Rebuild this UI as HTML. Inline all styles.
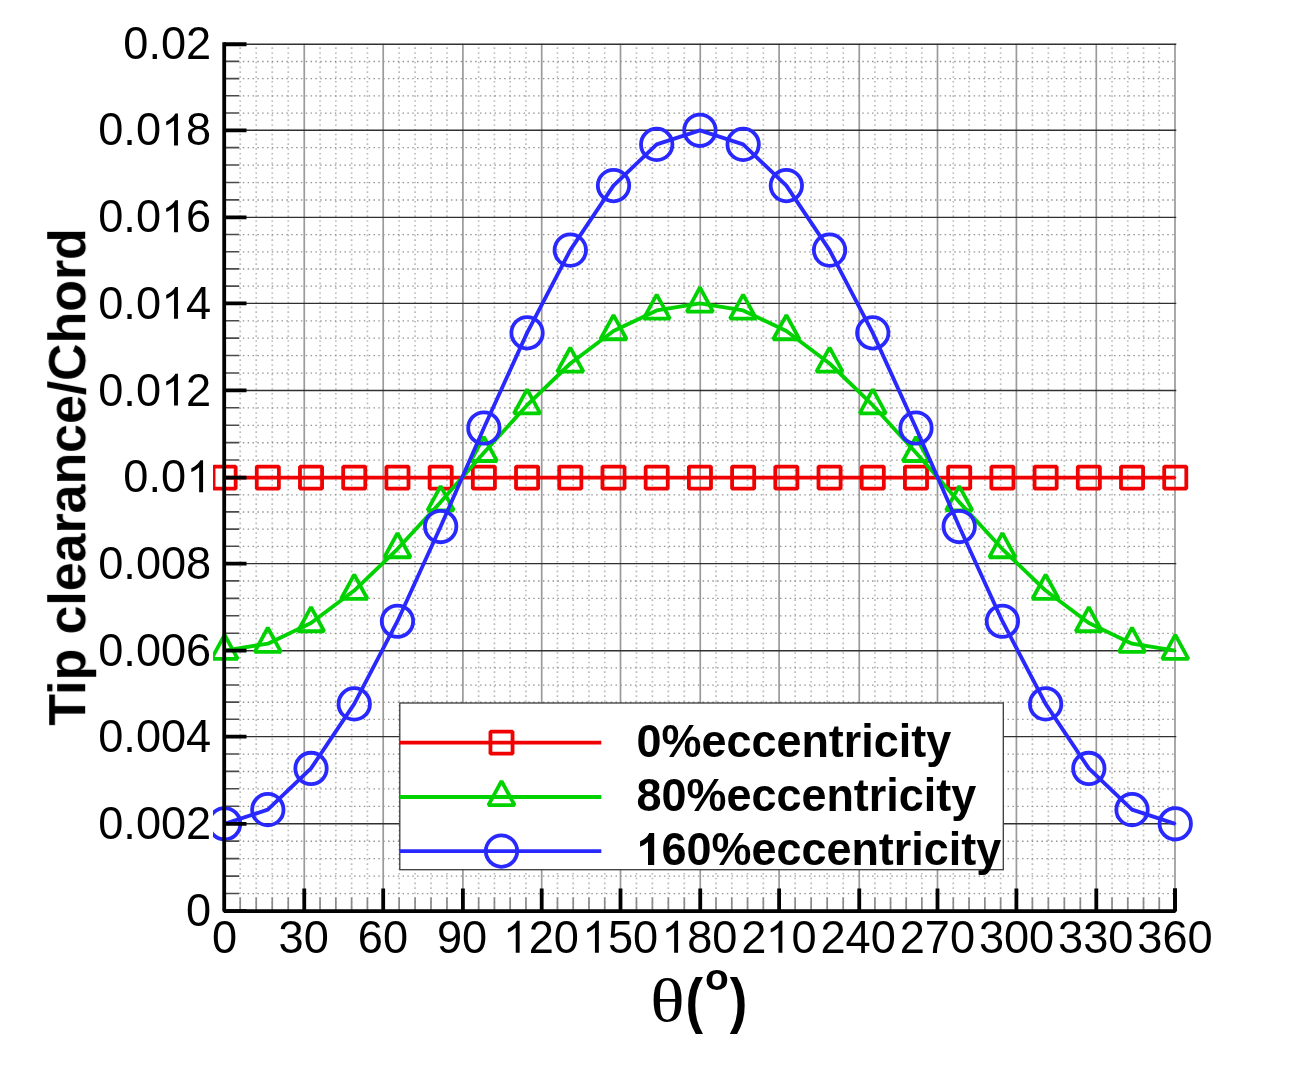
<!DOCTYPE html>
<html><head><meta charset="utf-8"><title>Tip clearance chart</title>
<style>html,body{margin:0;padding:0;background:#fff;overflow:hidden}body{width:1294px;height:1072px;position:relative;font-family:"Liberation Sans",sans-serif}</style>
</head><body>
<svg width="1294" height="1072" viewBox="0 0 1294 1072" style="position:absolute;left:0;top:0">
<rect width="1294" height="1072" fill="#fff"/>
<defs><clipPath id="cp"><rect x="213" y="0" width="1100" height="1072"/></clipPath></defs>
<path d="M240.21 44.73V908.68M256.22 44.73V908.68M272.24 44.73V908.68M288.25 44.73V908.68M320.05 44.73V908.68M335.84 44.73V908.68M351.62 44.73V908.68M367.41 44.73V908.68M399.14 44.73V908.68M415.08 44.73V908.68M431.02 44.73V908.68M446.96 44.73V908.68M478.66 44.73V908.68M494.42 44.73V908.68M510.18 44.73V908.68M525.94 44.73V908.68M557.46 44.73V908.68M573.22 44.73V908.68M588.98 44.73V908.68M604.74 44.73V908.68M636.45 44.73V908.68M652.40 44.73V908.68M668.35 44.73V908.68M684.30 44.73V908.68M716.02 44.73V908.68M731.79 44.73V908.68M747.56 44.73V908.68M763.33 44.73V908.68M795.13 44.73V908.68M811.16 44.73V908.68M827.19 44.73V908.68M843.22 44.73V908.68M874.90 44.73V908.68M890.55 44.73V908.68M906.20 44.73V908.68M921.85 44.73V908.68M953.28 44.73V908.68M969.06 44.73V908.68M984.84 44.73V908.68M1000.62 44.73V908.68M1032.38 44.73V908.68M1048.36 44.73V908.68M1064.34 44.73V908.68M1080.32 44.73V908.68M1112.04 44.73V908.68M1127.78 44.73V908.68M1143.52 44.73V908.68M1159.26 44.73V908.68" stroke="#bcbcbc" stroke-width="1.7" stroke-dasharray="1.6 3.2" stroke-dashoffset="-2.6" fill="none"/>
<path d="M239.20 893.64H1175.49M239.20 876.18H1175.49M239.20 858.72H1175.49M239.20 841.26H1175.49M239.20 806.36H1175.49M239.20 788.92H1175.49M239.20 771.48H1175.49M239.20 754.04H1175.49M239.20 719.42H1175.49M239.20 702.24H1175.49M239.20 685.06H1175.49M239.20 667.88H1175.49M239.20 633.28H1175.49M239.20 615.86H1175.49M239.20 598.44H1175.49M239.20 581.02H1175.49M239.20 546.40H1175.49M239.20 529.20H1175.49M239.20 512.00H1175.49M239.20 494.80H1175.49M239.20 460.17H1175.49M239.20 442.74H1175.49M239.20 425.31H1175.49M239.20 407.88H1175.49M239.20 373.04H1175.49M239.20 355.63H1175.49M239.20 338.22H1175.49M239.20 320.81H1175.49M239.20 286.20H1175.49M239.20 269.00H1175.49M239.20 251.80H1175.49M239.20 234.60H1175.49M239.20 199.98H1175.49M239.20 182.56H1175.49M239.20 165.14H1175.49M239.20 147.72H1175.49M239.20 113.10H1175.49M239.20 95.90H1175.49M239.20 78.70H1175.49M239.20 61.50H1175.49" stroke="#949494" stroke-width="1.3" stroke-dasharray="1.5 3.34" stroke-dashoffset="-3.6" fill="none"/>
<path d="M304.26 43.73V910.68M383.20 43.73V910.68M462.90 43.73V910.68M541.70 43.73V910.68M620.50 43.73V910.68M700.25 43.73V910.68M779.10 43.73V910.68M859.25 43.73V910.68M937.50 43.73V910.68M1016.40 43.73V910.68M1096.30 43.73V910.68M1175.00 43.73V910.68" stroke="#9a9a9a" stroke-width="1.7" fill="none"/>
<path d="M224.20 823.80H1176.29M224.20 736.60H1176.29M224.20 650.70H1176.29M224.20 563.60H1176.29M224.20 477.60H1176.29M224.20 390.45H1176.29M224.20 303.40H1176.29M224.20 217.40H1176.29M224.20 130.30H1176.29M224.20 44.30H1176.29" stroke="#303030" stroke-width="1.4" fill="none"/>
<g clip-path="url(#cp)">
<polyline points="224.60,477.60 267.81,477.60 311.02,477.60 354.23,477.60 397.45,477.60 440.66,477.60 483.87,477.60 527.08,477.60 570.29,477.60 613.50,477.60 656.71,477.60 699.92,477.60 743.14,477.60 786.35,477.60 829.56,477.60 872.77,477.60 915.98,477.60 959.19,477.60 1002.40,477.60 1045.62,477.60 1088.83,477.60 1132.04,477.60 1175.25,477.60" stroke="#f00000" stroke-width="3.85" fill="none" stroke-linejoin="bevel"/>
<rect x="213.55" y="466.55" width="22.10" height="22.10" stroke="#f00000" stroke-width="3.8" stroke-linejoin="bevel" fill="none"/>
<rect x="256.76" y="466.55" width="22.10" height="22.10" stroke="#f00000" stroke-width="3.8" stroke-linejoin="bevel" fill="none"/>
<rect x="299.97" y="466.55" width="22.10" height="22.10" stroke="#f00000" stroke-width="3.8" stroke-linejoin="bevel" fill="none"/>
<rect x="343.18" y="466.55" width="22.10" height="22.10" stroke="#f00000" stroke-width="3.8" stroke-linejoin="bevel" fill="none"/>
<rect x="386.40" y="466.55" width="22.10" height="22.10" stroke="#f00000" stroke-width="3.8" stroke-linejoin="bevel" fill="none"/>
<rect x="429.61" y="466.55" width="22.10" height="22.10" stroke="#f00000" stroke-width="3.8" stroke-linejoin="bevel" fill="none"/>
<rect x="472.82" y="466.55" width="22.10" height="22.10" stroke="#f00000" stroke-width="3.8" stroke-linejoin="bevel" fill="none"/>
<rect x="516.03" y="466.55" width="22.10" height="22.10" stroke="#f00000" stroke-width="3.8" stroke-linejoin="bevel" fill="none"/>
<rect x="559.24" y="466.55" width="22.10" height="22.10" stroke="#f00000" stroke-width="3.8" stroke-linejoin="bevel" fill="none"/>
<rect x="602.45" y="466.55" width="22.10" height="22.10" stroke="#f00000" stroke-width="3.8" stroke-linejoin="bevel" fill="none"/>
<rect x="645.66" y="466.55" width="22.10" height="22.10" stroke="#f00000" stroke-width="3.8" stroke-linejoin="bevel" fill="none"/>
<rect x="688.88" y="466.55" width="22.10" height="22.10" stroke="#f00000" stroke-width="3.8" stroke-linejoin="bevel" fill="none"/>
<rect x="732.09" y="466.55" width="22.10" height="22.10" stroke="#f00000" stroke-width="3.8" stroke-linejoin="bevel" fill="none"/>
<rect x="775.30" y="466.55" width="22.10" height="22.10" stroke="#f00000" stroke-width="3.8" stroke-linejoin="bevel" fill="none"/>
<rect x="818.51" y="466.55" width="22.10" height="22.10" stroke="#f00000" stroke-width="3.8" stroke-linejoin="bevel" fill="none"/>
<rect x="861.72" y="466.55" width="22.10" height="22.10" stroke="#f00000" stroke-width="3.8" stroke-linejoin="bevel" fill="none"/>
<rect x="904.93" y="466.55" width="22.10" height="22.10" stroke="#f00000" stroke-width="3.8" stroke-linejoin="bevel" fill="none"/>
<rect x="948.14" y="466.55" width="22.10" height="22.10" stroke="#f00000" stroke-width="3.8" stroke-linejoin="bevel" fill="none"/>
<rect x="991.35" y="466.55" width="22.10" height="22.10" stroke="#f00000" stroke-width="3.8" stroke-linejoin="bevel" fill="none"/>
<rect x="1034.57" y="466.55" width="22.10" height="22.10" stroke="#f00000" stroke-width="3.8" stroke-linejoin="bevel" fill="none"/>
<rect x="1077.78" y="466.55" width="22.10" height="22.10" stroke="#f00000" stroke-width="3.8" stroke-linejoin="bevel" fill="none"/>
<rect x="1120.99" y="466.55" width="22.10" height="22.10" stroke="#f00000" stroke-width="3.8" stroke-linejoin="bevel" fill="none"/>
<rect x="1164.20" y="466.55" width="22.10" height="22.10" stroke="#f00000" stroke-width="3.8" stroke-linejoin="bevel" fill="none"/>
<polyline points="224.60,650.70 267.81,643.64 311.02,623.05 354.23,590.58 397.45,549.05 440.66,502.08 483.87,452.79 527.08,405.19 570.29,363.49 613.50,331.04 656.71,310.45 699.92,303.40 743.14,310.45 786.35,331.04 829.56,363.49 872.77,405.19 915.98,452.79 959.19,502.08 1002.40,549.05 1045.62,590.58 1088.83,623.05 1132.04,643.64 1175.25,650.70" stroke="#00d200" stroke-width="3.85" fill="none" stroke-linejoin="bevel"/>
<path d="M211.50 658.90L224.60 634.80L237.70 658.90Z" stroke="#00d200" stroke-width="3.8" stroke-linejoin="bevel" fill="none"/>
<path d="M254.71 651.84L267.81 627.74L280.91 651.84Z" stroke="#00d200" stroke-width="3.8" stroke-linejoin="bevel" fill="none"/>
<path d="M297.92 631.25L311.02 607.15L324.12 631.25Z" stroke="#00d200" stroke-width="3.8" stroke-linejoin="bevel" fill="none"/>
<path d="M341.13 598.78L354.23 574.68L367.33 598.78Z" stroke="#00d200" stroke-width="3.8" stroke-linejoin="bevel" fill="none"/>
<path d="M384.35 557.25L397.45 533.15L410.55 557.25Z" stroke="#00d200" stroke-width="3.8" stroke-linejoin="bevel" fill="none"/>
<path d="M427.56 510.28L440.66 486.18L453.76 510.28Z" stroke="#00d200" stroke-width="3.8" stroke-linejoin="bevel" fill="none"/>
<path d="M470.77 460.99L483.87 436.89L496.97 460.99Z" stroke="#00d200" stroke-width="3.8" stroke-linejoin="bevel" fill="none"/>
<path d="M513.98 413.39L527.08 389.29L540.18 413.39Z" stroke="#00d200" stroke-width="3.8" stroke-linejoin="bevel" fill="none"/>
<path d="M557.19 371.69L570.29 347.59L583.39 371.69Z" stroke="#00d200" stroke-width="3.8" stroke-linejoin="bevel" fill="none"/>
<path d="M600.40 339.24L613.50 315.14L626.60 339.24Z" stroke="#00d200" stroke-width="3.8" stroke-linejoin="bevel" fill="none"/>
<path d="M643.61 318.65L656.71 294.55L669.81 318.65Z" stroke="#00d200" stroke-width="3.8" stroke-linejoin="bevel" fill="none"/>
<path d="M686.82 311.60L699.92 287.50L713.02 311.60Z" stroke="#00d200" stroke-width="3.8" stroke-linejoin="bevel" fill="none"/>
<path d="M730.04 318.65L743.14 294.55L756.24 318.65Z" stroke="#00d200" stroke-width="3.8" stroke-linejoin="bevel" fill="none"/>
<path d="M773.25 339.24L786.35 315.14L799.45 339.24Z" stroke="#00d200" stroke-width="3.8" stroke-linejoin="bevel" fill="none"/>
<path d="M816.46 371.69L829.56 347.59L842.66 371.69Z" stroke="#00d200" stroke-width="3.8" stroke-linejoin="bevel" fill="none"/>
<path d="M859.67 413.39L872.77 389.29L885.87 413.39Z" stroke="#00d200" stroke-width="3.8" stroke-linejoin="bevel" fill="none"/>
<path d="M902.88 460.99L915.98 436.89L929.08 460.99Z" stroke="#00d200" stroke-width="3.8" stroke-linejoin="bevel" fill="none"/>
<path d="M946.09 510.28L959.19 486.18L972.29 510.28Z" stroke="#00d200" stroke-width="3.8" stroke-linejoin="bevel" fill="none"/>
<path d="M989.30 557.25L1002.40 533.15L1015.50 557.25Z" stroke="#00d200" stroke-width="3.8" stroke-linejoin="bevel" fill="none"/>
<path d="M1032.52 598.78L1045.62 574.68L1058.72 598.78Z" stroke="#00d200" stroke-width="3.8" stroke-linejoin="bevel" fill="none"/>
<path d="M1075.73 631.25L1088.83 607.15L1101.93 631.25Z" stroke="#00d200" stroke-width="3.8" stroke-linejoin="bevel" fill="none"/>
<path d="M1118.94 651.84L1132.04 627.74L1145.14 651.84Z" stroke="#00d200" stroke-width="3.8" stroke-linejoin="bevel" fill="none"/>
<path d="M1162.15 658.90L1175.25 634.80L1188.35 658.90Z" stroke="#00d200" stroke-width="3.8" stroke-linejoin="bevel" fill="none"/>
<polyline points="224.60,823.80 267.81,809.67 311.02,768.43 354.23,703.91 397.45,621.23 440.66,526.56 483.87,427.99 527.08,332.85 570.29,250.13 613.50,185.61 656.71,144.41 699.92,130.30 743.14,144.41 786.35,185.61 829.56,250.13 872.77,332.85 915.98,427.99 959.19,526.56 1002.40,621.23 1045.62,703.91 1088.83,768.43 1132.04,809.67 1175.25,823.80" stroke="#2828ff" stroke-width="3.85" fill="none" stroke-linejoin="bevel"/>
<circle cx="224.60" cy="823.80" r="15.7" stroke="#2828ff" stroke-width="3.8" fill="none"/>
<circle cx="267.81" cy="809.67" r="15.7" stroke="#2828ff" stroke-width="3.8" fill="none"/>
<circle cx="311.02" cy="768.43" r="15.7" stroke="#2828ff" stroke-width="3.8" fill="none"/>
<circle cx="354.23" cy="703.91" r="15.7" stroke="#2828ff" stroke-width="3.8" fill="none"/>
<circle cx="397.45" cy="621.23" r="15.7" stroke="#2828ff" stroke-width="3.8" fill="none"/>
<circle cx="440.66" cy="526.56" r="15.7" stroke="#2828ff" stroke-width="3.8" fill="none"/>
<circle cx="483.87" cy="427.99" r="15.7" stroke="#2828ff" stroke-width="3.8" fill="none"/>
<circle cx="527.08" cy="332.85" r="15.7" stroke="#2828ff" stroke-width="3.8" fill="none"/>
<circle cx="570.29" cy="250.13" r="15.7" stroke="#2828ff" stroke-width="3.8" fill="none"/>
<circle cx="613.50" cy="185.61" r="15.7" stroke="#2828ff" stroke-width="3.8" fill="none"/>
<circle cx="656.71" cy="144.41" r="15.7" stroke="#2828ff" stroke-width="3.8" fill="none"/>
<circle cx="699.92" cy="130.30" r="15.7" stroke="#2828ff" stroke-width="3.8" fill="none"/>
<circle cx="743.14" cy="144.41" r="15.7" stroke="#2828ff" stroke-width="3.8" fill="none"/>
<circle cx="786.35" cy="185.61" r="15.7" stroke="#2828ff" stroke-width="3.8" fill="none"/>
<circle cx="829.56" cy="250.13" r="15.7" stroke="#2828ff" stroke-width="3.8" fill="none"/>
<circle cx="872.77" cy="332.85" r="15.7" stroke="#2828ff" stroke-width="3.8" fill="none"/>
<circle cx="915.98" cy="427.99" r="15.7" stroke="#2828ff" stroke-width="3.8" fill="none"/>
<circle cx="959.19" cy="526.56" r="15.7" stroke="#2828ff" stroke-width="3.8" fill="none"/>
<circle cx="1002.40" cy="621.23" r="15.7" stroke="#2828ff" stroke-width="3.8" fill="none"/>
<circle cx="1045.62" cy="703.91" r="15.7" stroke="#2828ff" stroke-width="3.8" fill="none"/>
<circle cx="1088.83" cy="768.43" r="15.7" stroke="#2828ff" stroke-width="3.8" fill="none"/>
<circle cx="1132.04" cy="809.67" r="15.7" stroke="#2828ff" stroke-width="3.8" fill="none"/>
<circle cx="1175.25" cy="823.80" r="15.7" stroke="#2828ff" stroke-width="3.8" fill="none"/>
</g>
<path d="M224.20 893.54H239.20M224.20 876.08H239.20M224.20 858.62H239.20M224.20 841.16H239.20M224.20 806.26H239.20M224.20 788.82H239.20M224.20 771.38H239.20M224.20 753.94H239.20M224.20 719.32H239.20M224.20 702.14H239.20M224.20 684.96H239.20M224.20 667.78H239.20M224.20 633.18H239.20M224.20 615.76H239.20M224.20 598.34H239.20M224.20 580.92H239.20M224.20 546.30H239.20M224.20 529.10H239.20M224.20 511.90H239.20M224.20 494.70H239.20M224.20 460.07H239.20M224.20 442.64H239.20M224.20 425.21H239.20M224.20 407.78H239.20M224.20 372.94H239.20M224.20 355.53H239.20M224.20 338.12H239.20M224.20 320.71H239.20M224.20 286.10H239.20M224.20 268.90H239.20M224.20 251.70H239.20M224.20 234.50H239.20M224.20 199.88H239.20M224.20 182.46H239.20M224.20 165.04H239.20M224.20 147.62H239.20M224.20 113.00H239.20M224.20 95.80H239.20M224.20 78.60H239.20M224.20 61.40H239.20" stroke="#4a4a4a" stroke-width="1.6" fill="none"/>
<path d="M240.21 911.10V897.60M256.22 911.10V897.60M272.24 911.10V897.60M288.25 911.10V897.60M320.05 911.10V897.60M335.84 911.10V897.60M351.62 911.10V897.60M367.41 911.10V897.60M399.14 911.10V897.60M415.08 911.10V897.60M431.02 911.10V897.60M446.96 911.10V897.60M478.66 911.10V897.60M494.42 911.10V897.60M510.18 911.10V897.60M525.94 911.10V897.60M557.46 911.10V897.60M573.22 911.10V897.60M588.98 911.10V897.60M604.74 911.10V897.60M636.45 911.10V897.60M652.40 911.10V897.60M668.35 911.10V897.60M684.30 911.10V897.60M716.02 911.10V897.60M731.79 911.10V897.60M747.56 911.10V897.60M763.33 911.10V897.60M795.13 911.10V897.60M811.16 911.10V897.60M827.19 911.10V897.60M843.22 911.10V897.60M874.90 911.10V897.60M890.55 911.10V897.60M906.20 911.10V897.60M921.85 911.10V897.60M953.28 911.10V897.60M969.06 911.10V897.60M984.84 911.10V897.60M1000.62 911.10V897.60M1032.38 911.10V897.60M1048.36 911.10V897.60M1064.34 911.10V897.60M1080.32 911.10V897.60M1112.04 911.10V897.60M1127.78 911.10V897.60M1143.52 911.10V897.60M1159.26 911.10V897.60" stroke="#8a8a8a" stroke-width="1.7" fill="none"/>
<path d="M224.20 911.10H246.50M224.20 823.80H246.50M224.20 736.60H246.50M224.20 650.70H246.50M224.20 563.60H246.50M224.20 477.60H246.50M224.20 390.45H246.50M224.20 303.40H246.50M224.20 217.40H246.50M224.20 130.30H246.50M224.20 44.25H246.50M304.26 911.10V888.60M383.20 911.10V888.60M462.90 911.10V888.60M541.70 911.10V888.60M620.50 911.10V888.60M700.25 911.10V888.60M779.10 911.10V888.60M859.25 911.10V888.60M937.50 911.10V888.60M1016.40 911.10V888.60M1096.30 911.10V888.60M1175.00 911.10V888.60" stroke="#000" stroke-width="3.8" fill="none"/>
<path d="M224.20 42.35V911.10H1175.05V888.60" stroke="#000" stroke-width="3.8" fill="none" stroke-linejoin="bevel"/>
<rect x="399.8" y="703" width="603.5" height="166.7" fill="#fff" stroke="#3a3a3a" stroke-width="1.3"/>
<path d="M399.8 742.6H601.3" stroke="#f00000" stroke-width="3.85" fill="none"/>
<rect x="490.45" y="731.55" width="22.10" height="22.10" stroke="#f00000" stroke-width="3.8" stroke-linejoin="bevel" fill="none"/>
<path d="M399.8 797.0H601.3" stroke="#00d200" stroke-width="3.85" fill="none"/>
<path d="M488.40 805.20L501.50 781.10L514.60 805.20Z" stroke="#00d200" stroke-width="3.8" stroke-linejoin="bevel" fill="none"/>
<path d="M399.8 851.1H601.3" stroke="#2828ff" stroke-width="3.85" fill="none"/>
<circle cx="501.50" cy="851.10" r="15.7" stroke="#2828ff" stroke-width="3.8" fill="none"/>
<g style="filter:grayscale(1)"><text transform="translate(636.5 756.60) scale(0.977 1)" font-family="Liberation Sans, sans-serif" font-weight="bold" font-size="46" fill="#000">0%eccentricity</text><text transform="translate(636.5 811.00) scale(0.977 1)" font-family="Liberation Sans, sans-serif" font-weight="bold" font-size="46" fill="#000">80%eccentricity</text><g transform="translate(636.5 865.10) scale(0.977 1)"><path transform="scale(0.02246 -0.02175)" d="M806 0H525V1059Q371 915 162 846V1101Q272 1137 401 1237.5T578 1472H806V0Z" fill="#000"/><text x="25.58" y="0" font-family="Liberation Sans, sans-serif" font-weight="bold" font-size="46" fill="#000">60%eccentricity</text></g><g transform="translate(211.20 925.73) scale(0.984 1)"><text x="-25.52" y="0" font-family="Liberation Sans, sans-serif" font-size="45.9" fill="#000">0</text></g><g transform="translate(211.20 839.03) scale(0.984 1)"><text x="-114.84 -89.32 -76.56 -51.04 -25.52" y="0" font-family="Liberation Sans, sans-serif" font-size="45.9" fill="#000">0.002</text></g><g transform="translate(211.20 752.34) scale(0.984 1)"><text x="-114.84 -89.32 -76.56 -51.04 -25.52" y="0" font-family="Liberation Sans, sans-serif" font-size="45.9" fill="#000">0.004</text></g><g transform="translate(211.20 665.64) scale(0.984 1)"><text x="-114.84 -89.32 -76.56 -51.04 -25.52" y="0" font-family="Liberation Sans, sans-serif" font-size="45.9" fill="#000">0.006</text></g><g transform="translate(211.20 578.95) scale(0.984 1)"><text x="-114.84 -89.32 -76.56 -51.04 -25.52" y="0" font-family="Liberation Sans, sans-serif" font-size="45.9" fill="#000">0.008</text></g><g transform="translate(211.20 492.25) scale(0.984 1)"><text x="-89.32 -63.80 -51.04" y="0" font-family="Liberation Sans, sans-serif" font-size="45.9" fill="#000">0.0</text><path transform="translate(-25.12 0) scale(0.02208 -0.02170)" d="M763 0H583V1147Q518 1085 412.5 1023T223 930V1104Q373 1174.5 485 1275T644 1470H763V0Z" fill="#000"/></g><g transform="translate(211.20 405.56) scale(0.984 1)"><text x="-114.84 -89.32 -76.56 -25.52" y="0" font-family="Liberation Sans, sans-serif" font-size="45.9" fill="#000">0.02</text><path transform="translate(-50.64 0) scale(0.02208 -0.02170)" d="M763 0H583V1147Q518 1085 412.5 1023T223 930V1104Q373 1174.5 485 1275T644 1470H763V0Z" fill="#000"/></g><g transform="translate(211.20 318.86) scale(0.984 1)"><text x="-114.84 -89.32 -76.56 -25.52" y="0" font-family="Liberation Sans, sans-serif" font-size="45.9" fill="#000">0.04</text><path transform="translate(-50.64 0) scale(0.02208 -0.02170)" d="M763 0H583V1147Q518 1085 412.5 1023T223 930V1104Q373 1174.5 485 1275T644 1470H763V0Z" fill="#000"/></g><g transform="translate(211.20 232.17) scale(0.984 1)"><text x="-114.84 -89.32 -76.56 -25.52" y="0" font-family="Liberation Sans, sans-serif" font-size="45.9" fill="#000">0.06</text><path transform="translate(-50.64 0) scale(0.02208 -0.02170)" d="M763 0H583V1147Q518 1085 412.5 1023T223 930V1104Q373 1174.5 485 1275T644 1470H763V0Z" fill="#000"/></g><g transform="translate(211.20 145.48) scale(0.984 1)"><text x="-114.84 -89.32 -76.56 -25.52" y="0" font-family="Liberation Sans, sans-serif" font-size="45.9" fill="#000">0.08</text><path transform="translate(-50.64 0) scale(0.02208 -0.02170)" d="M763 0H583V1147Q518 1085 412.5 1023T223 930V1104Q373 1174.5 485 1275T644 1470H763V0Z" fill="#000"/></g><g transform="translate(211.20 58.78) scale(0.984 1)"><text x="-89.32 -63.80 -51.04 -25.52" y="0" font-family="Liberation Sans, sans-serif" font-size="45.9" fill="#000">0.02</text></g><g transform="translate(224.49 952.70) scale(0.984 1)"><text x="-12.76" y="0" font-family="Liberation Sans, sans-serif" font-size="45.9" fill="#000">0</text></g><g transform="translate(303.70 952.70) scale(0.984 1)"><text x="-25.52 0.00" y="0" font-family="Liberation Sans, sans-serif" font-size="45.9" fill="#000">30</text></g><g transform="translate(382.91 952.70) scale(0.984 1)"><text x="-25.52 0.00" y="0" font-family="Liberation Sans, sans-serif" font-size="45.9" fill="#000">60</text></g><g transform="translate(462.12 952.70) scale(0.984 1)"><text x="-25.52 0.00" y="0" font-family="Liberation Sans, sans-serif" font-size="45.9" fill="#000">90</text></g><g transform="translate(541.32 952.70) scale(0.984 1)"><text x="-12.76 12.76" y="0" font-family="Liberation Sans, sans-serif" font-size="45.9" fill="#000">20</text><path transform="translate(-38.88 0) scale(0.02208 -0.02170)" d="M763 0H583V1147Q518 1085 412.5 1023T223 930V1104Q373 1174.5 485 1275T644 1470H763V0Z" fill="#000"/></g><g transform="translate(620.53 952.70) scale(0.984 1)"><text x="-12.76 12.76" y="0" font-family="Liberation Sans, sans-serif" font-size="45.9" fill="#000">50</text><path transform="translate(-38.88 0) scale(0.02208 -0.02170)" d="M763 0H583V1147Q518 1085 412.5 1023T223 930V1104Q373 1174.5 485 1275T644 1470H763V0Z" fill="#000"/></g><g transform="translate(699.74 952.70) scale(0.984 1)"><text x="-12.76 12.76" y="0" font-family="Liberation Sans, sans-serif" font-size="45.9" fill="#000">80</text><path transform="translate(-38.88 0) scale(0.02208 -0.02170)" d="M763 0H583V1147Q518 1085 412.5 1023T223 930V1104Q373 1174.5 485 1275T644 1470H763V0Z" fill="#000"/></g><g transform="translate(778.95 952.70) scale(0.984 1)"><text x="-38.28 12.76" y="0" font-family="Liberation Sans, sans-serif" font-size="45.9" fill="#000">20</text><path transform="translate(-13.36 0) scale(0.02208 -0.02170)" d="M763 0H583V1147Q518 1085 412.5 1023T223 930V1104Q373 1174.5 485 1275T644 1470H763V0Z" fill="#000"/></g><g transform="translate(858.16 952.70) scale(0.984 1)"><text x="-38.28 -12.76 12.76" y="0" font-family="Liberation Sans, sans-serif" font-size="45.9" fill="#000">240</text></g><g transform="translate(937.37 952.70) scale(0.984 1)"><text x="-38.28 -12.76 12.76" y="0" font-family="Liberation Sans, sans-serif" font-size="45.9" fill="#000">270</text></g><g transform="translate(1016.57 952.70) scale(0.984 1)"><text x="-38.28 -12.76 12.76" y="0" font-family="Liberation Sans, sans-serif" font-size="45.9" fill="#000">300</text></g><g transform="translate(1095.78 952.70) scale(0.984 1)"><text x="-38.28 -12.76 12.76" y="0" font-family="Liberation Sans, sans-serif" font-size="45.9" fill="#000">330</text></g><g transform="translate(1174.99 952.70) scale(0.984 1)"><text x="-38.28 -12.76 12.76" y="0" font-family="Liberation Sans, sans-serif" font-size="45.9" fill="#000">360</text></g><text transform="translate(85.2 476.9) rotate(-90)" text-anchor="middle" font-family="Liberation Sans, sans-serif" font-weight="bold" font-size="51.85" fill="#000">Tip clearance/Chord</text><text transform="translate(650.2 1021) scale(1.12 0.967)" font-family="Liberation Serif, serif" font-size="64" fill="#000">θ</text><text transform="translate(685.6 1021) scale(0.85 1)" font-size="62" font-family="Liberation Sans, sans-serif" font-weight="bold" fill="#000">(</text><text transform="translate(705.0 990) scale(1.05 1)" font-size="37" font-family="Liberation Sans, sans-serif" font-weight="bold" fill="#000">o</text><text transform="translate(729.8 1021) scale(0.85 1)" font-size="62" font-family="Liberation Sans, sans-serif" font-weight="bold" fill="#000">)</text></g>
</svg>
</body></html>
